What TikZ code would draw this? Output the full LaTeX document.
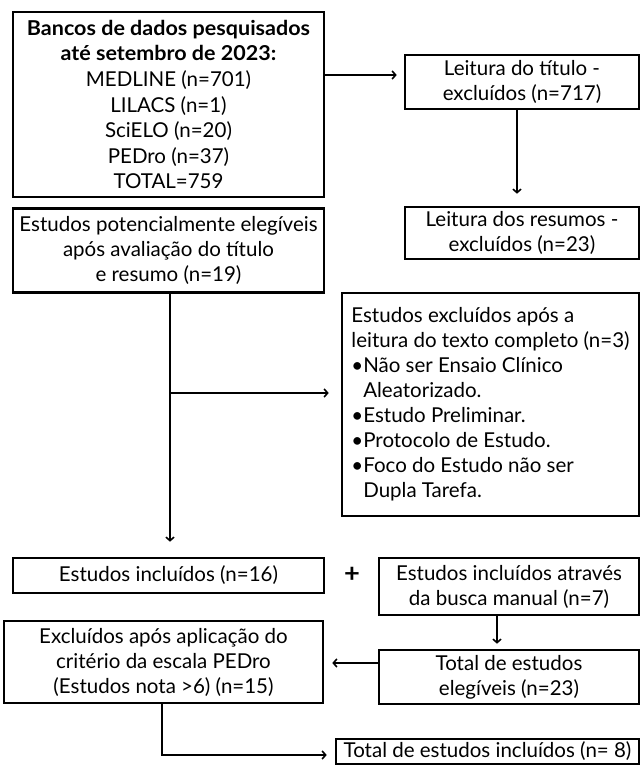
\documentclass[tikz,border=0pt]{standalone}
\usepackage{fontspec}
\setmainfont{Lato}[BoldFeatures={FakeStretch=1.05}]
\usetikzlibrary{arrows.meta}
\newcommand{\fs}{\fontsize{20.5}{25}\selectfont}
\newcommand{\fsa}{\fontsize{20.5}{25.6}\selectfont}
\begin{document}
\begin{tikzpicture}[x=1pt,y=-1pt,
  box/.style={draw, line width=2.6pt, inner sep=0pt, align=center, font=\fs},
  arr/.style={line width=1.9pt, -{Straight Barb[length=3.5pt,width=8pt,line width=1.6pt]}},
  plus/.style={font=\fontsize{26}{26}\bfseries, inner sep=0pt}]
\useasboundingbox (0,0) rectangle (644,766);
\node[box, font=\fsa, minimum width=311pt, minimum height=185pt] (B1) at (168.5,104.5)
  {\textbf{Bancos de dados pesquisados}\\ \textbf{até setembro de 2023:}\\ MEDLINE (n=701)\\ LILACS (n=1)\\ SciELO (n=20)\\ PEDro (n=37)\\ TOTAL=759};
\node[box, minimum width=234pt, minimum height=54pt] (B2) at (522,82)
  {Leitura do título -\\ excluídos (n=717)};
\node[box, minimum width=234pt, minimum height=52pt] (B4) at (522,233)
  {Leitura dos resumos -\\ excluídos (n=23)};
\node[box, minimum width=311pt, minimum height=84pt] (B3) at (168.5,250.5)
  {Estudos potencialmente elegíveis\\ após avaliação do título\\ e resumo (n=19)};
\node[box, align=left, minimum width=297pt, minimum height=223pt] (B5) at (490.5,404.5)
  {Estudos excluídos após a\\ leitura do texto completo (n=3)\\ •Não ser Ensaio Clínico\\ \hphantom{•}Aleatorizado.\\ •Estudo Preliminar.\\ •Protocolo de Estudo.\\ •Foco do Estudo não ser\\ \hphantom{•}Dupla Tarefa.};
\node[box, minimum width=311pt, minimum height=35pt] (B6) at (168.5,575.5)
  {Estudos incluídos (n=16)};
\node[plus] (P) at (352,575) {+};
\node[box, minimum width=260pt, minimum height=57pt] (B7) at (509,586.5)
  {Estudos incluídos através\\ da busca manual (n=7)};
\node[box, minimum width=319pt, minimum height=82pt] (B8) at (163.5,662)
  {Excluídos após aplicação do\\ critério da escala PEDro\\ (Estudos nota >6) (n=15)};
\node[box, minimum width=260pt, minimum height=54pt] (B9) at (509,677)
  {Total de estudos\\ elegíveis (n=23)};
\node[box, minimum width=303pt, minimum height=25pt] (B10) at (487.5,751.5)
  {Total de estudos incluídos (n= 8)};
\coordinate (a1) at (0,75);
\draw[arr, shorten >=7pt] (B1.east |- a1) -- (B2.west |- a1);
\coordinate (v1) at (517,0);
\draw[arr, shorten >=12pt] (B2.south -| v1) -- (B4.north -| v1);
\coordinate (v2) at (170,0);
\coordinate (h2) at (0,393);
\draw[arr, shorten >=15pt] (B3.south -| v2) -- (B6.north -| v2);
\draw[arr, shorten >=12pt] (v2 |- h2) -- (B5.west |- h2);
\coordinate (v3) at (497,0);
\draw[arr, shorten >=5pt] (B7.south -| v3) -- (B9.north -| v3);
\coordinate (h3) at (0,663);
\draw[arr, shorten >=8pt] (B9.west |- h3) -- (B8.east |- h3);
\coordinate (v4) at (162,0);
\coordinate (h4) at (0,755);
\draw[arr, shorten >=8pt] (B8.south -| v4) |- (B10.west |- h4);
\end{tikzpicture}
\end{document}
